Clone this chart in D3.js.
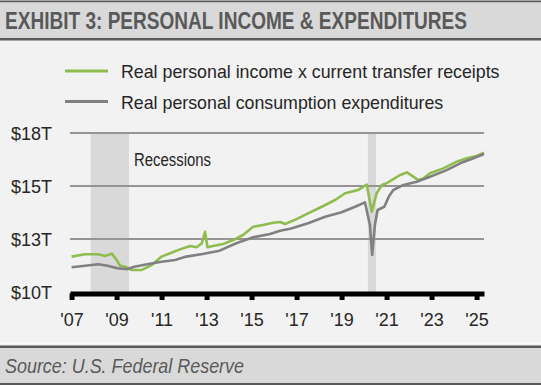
<!DOCTYPE html>
<html>
<head>
<meta charset="utf-8">
<script src="https://cdn.jsdelivr.net/npm/d3@7"></script>
<style>
  html, body { margin: 0; padding: 0; background: #f2f2f2; }
  svg { display: block; font-family: "Liberation Sans", Arial, sans-serif; }
</style>
</head>
<body>
<div id="chart"></div>
<script>
// Dane (lata dziesietne, biliony USD)
const incomeDates = [2007.0, 2007.6, 2008.18, 2008.49, 2008.79, 2009.0, 2009.16, 2009.38, 2009.68, 2010.12,
  2010.56, 2011.0, 2011.38, 2011.82, 2012.27, 2012.56, 2012.79, 2012.93, 2013.04, 2013.29, 2013.73,
  2014.18, 2014.62, 2015.07, 2015.51, 2015.96, 2016.27, 2016.49, 2016.93, 2017.51, 2018.12, 2018.71,
  2019.16, 2019.73, 2020.12, 2020.34, 2020.56, 2020.79, 2021.0, 2021.3, 2021.6, 2021.9, 2022.19,
  2022.41, 2022.64, 2022.93, 2023.52, 2024.12, 2024.56, 2025.0, 2025.33];
const incomeValues = [11.67, 11.78, 11.78, 11.70, 11.81, 11.51, 11.24, 11.19, 11.04, 11.04,
  11.27, 11.67, 11.83, 12.01, 12.17, 12.11, 12.30, 12.84, 12.11, 12.17, 12.26,
  12.45, 12.69, 13.08, 13.16, 13.27, 13.30, 13.21, 13.40, 13.71, 14.02, 14.34,
  14.66, 14.81, 15.07, 13.79, 14.66, 15.05, 15.13, 15.32, 15.52, 15.64, 15.44,
  15.28, 15.36, 15.60, 15.83, 16.15, 16.31, 16.42, 16.57];

const pceDates = [2007.0, 2007.6, 2008.18, 2008.6, 2009.04, 2009.48, 2009.79, 2010.36, 2011.0, 2011.6,
  2012.1, 2012.82, 2013.58, 2014.32, 2015.07, 2015.82, 2016.27, 2016.76, 2017.51, 2018.27, 2019.0,
  2019.6, 2020.04, 2020.26, 2020.36, 2020.48, 2020.6, 2020.9, 2021.1, 2021.3, 2021.75, 2022.34,
  2022.93, 2023.67, 2024.27, 2024.86, 2025.33];
const pceValues = [11.17, 11.24, 11.31, 11.24, 11.12, 11.08, 11.19, 11.31, 11.43, 11.51,
  11.67, 11.79, 11.95, 12.30, 12.58, 12.74, 12.89, 13.00, 13.24, 13.55, 13.76,
  14.02, 14.23, 13.16, 11.75, 13.16, 13.87, 14.02, 14.50, 14.81, 15.05, 15.20,
  15.44, 15.75, 16.07, 16.31, 16.51];

const recessions = [[2007.85, 2009.55], [2020.17, 2020.53]];
const yTicks = [10, 12.5, 15, 17.5];
const xTicks = [2007, 2009, 2011, 2013, 2015, 2017, 2019, 2021, 2023, 2025];
const seriesNames = ["Real personal income x current transfer receipts", "Real personal consumption expenditures"];
const seriesColors = ["#8fbc4f", "#808080"];

const W = 541, H = 385;

const svg = d3.select("#chart").append("svg").attr("width", W).attr("height", H);

svg.append("rect").attr("width", W).attr("height", H).attr("fill", "#f2f2f2");

// Naglowek
svg.append("rect").attr("x", 0).attr("y", 0.5).attr("width", W).attr("height", 2).attr("fill", "#595959");
svg.append("rect").attr("x", 0).attr("y", 2.5).attr("width", W).attr("height", 35.5).attr("fill", "#d9d9d9");
svg.append("rect").attr("x", 0).attr("y", 38).attr("width", W).attr("height", 2.5).attr("fill", "#595959");
svg.append("text")
  .attr("x", 5).attr("y", 29)
  .attr("font-size", 23).attr("font-weight", "bold").attr("fill", "#595959")
  .attr("textLength", 462).attr("lengthAdjust", "spacingAndGlyphs")
  .text("EXHIBIT 3: PERSONAL INCOME & EXPENDITURES");

// Stopka
svg.append("rect").attr("x", 0).attr("y", 342).attr("width", W).attr("height", 2).attr("fill", "#fafafa");
svg.append("rect").attr("x", 0).attr("y", 345.5).attr("width", W).attr("height", 2.5).attr("fill", "#595959");
svg.append("rect").attr("x", 0).attr("y", 348).attr("width", W).attr("height", 35).attr("fill", "#d9d9d9");
svg.append("rect").attr("x", 0).attr("y", 383).attr("width", W).attr("height", 2).attr("fill", "#595959");
svg.append("text")
  .attr("x", 5).attr("y", 373)
  .attr("font-size", 21).attr("font-style", "italic").attr("fill", "#595959")
  .attr("textLength", 239).attr("lengthAdjust", "spacingAndGlyphs")
  .text("Source: U.S. Federal Reserve");

// Skale
const x = d3.scaleLinear().domain([2006.93, 2025.33]).range([70, 484]);
const y = d3.scaleLinear().domain([10, 17.5]).range([292, 133]);

// Recesje
svg.append("g").selectAll("rect")
  .data(recessions)
  .enter()
  .append("rect")
  .attr("x", (d) => x(d[0]))
  .attr("width", (d) => x(d[1]) - x(d[0]))
  .attr("y", y(17.5))
  .attr("height", y(10) - y(17.5))
  .attr("fill", "#d9d9d9");

svg.append("text")
  .attr("x", 134).attr("y", 166)
  .attr("font-size", 18).attr("fill", "#262626")
  .attr("textLength", 77).attr("lengthAdjust", "spacingAndGlyphs")
  .text("Recessions");

// Siatka
svg.append("g").selectAll("line")
  .data(yTicks.filter((t) => t > 10))
  .enter()
  .append("line")
  .attr("x1", 70).attr("x2", 484)
  .attr("y1", (d) => y(d)).attr("y2", (d) => y(d))
  .attr("stroke", "#959595")
  .attr("stroke-width", 2);

// Etykiety osi Y
svg.append("g").selectAll("text")
  .data(yTicks)
  .enter()
  .append("text")
  .attr("x", 52)
  .attr("y", (d) => y(d) + 6.5)
  .attr("text-anchor", "end")
  .attr("font-size", 18)
  .attr("fill", "#262626")
  .text((d) => "$" + Math.round(d) + "T");

// Linie
const line = d3.line().x((d) => x(d[0])).y((d) => y(d[1]));
const incomeData = incomeDates.map((d, i) => [d, incomeValues[i]]);
const pceData = pceDates.map((d, i) => [d, pceValues[i]]);

svg.append("path")
  .datum(incomeData)
  .attr("d", line)
  .attr("fill", "none")
  .attr("stroke", seriesColors[0])
  .attr("stroke-width", 2.6)
  .attr("stroke-linejoin", "round");

svg.append("path")
  .datum(pceData)
  .attr("d", line)
  .attr("fill", "none")
  .attr("stroke", seriesColors[1])
  .attr("stroke-width", 2.6)
  .attr("stroke-linejoin", "round");

// Os X
const xAxis = d3.axisBottom(x)
  .tickValues(xTicks)
  .tickSizeInner(6.5)
  .tickSizeOuter(0)
  .tickPadding(0)
  .tickFormat((d) => "'" + String(d).slice(2));

const gx = svg.append("g").attr("transform", "translate(0,293.5)").call(xAxis);
gx.select(".domain").attr("stroke", "#000").attr("stroke-width", 5);
gx.selectAll(".tick line").attr("stroke", "#000").attr("stroke-width", 5);
gx.selectAll(".tick text")
  .attr("y", 32).attr("dy", 0)
  .attr("font-size", 18)
  .attr("font-family", "Liberation Sans, Arial, sans-serif")
  .attr("fill", "#262626");

// Legenda
const legend = svg.append("g").selectAll("g")
  .data(seriesNames)
  .enter()
  .append("g")
  .attr("transform", (d, i) => `translate(0,${71 + i * 30.5})`);

legend.append("line")
  .attr("x1", 65).attr("x2", 108)
  .attr("stroke", (d, i) => seriesColors[i])
  .attr("stroke-width", 3);

legend.append("text")
  .attr("x", 121).attr("y", 7)
  .attr("font-size", 17.8)
  .attr("fill", "#262626")
  .text((d) => d);
</script>
</body>
</html>
